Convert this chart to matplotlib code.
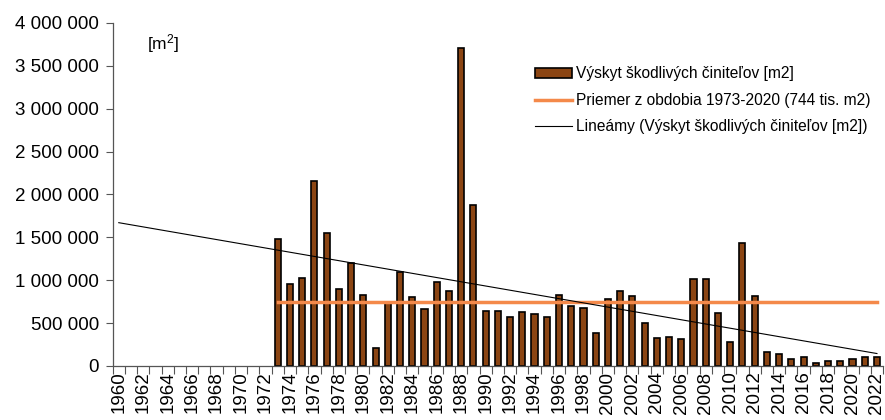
import numpy as np
import matplotlib
matplotlib.use('Agg')
import matplotlib.pyplot as plt
from matplotlib.ticker import FuncFormatter

plt.rcParams['font.family'] = ['Liberation Sans', 'DejaVu Sans']
plt.rcParams['mathtext.fontset'] = 'custom'
plt.rcParams['mathtext.rm'] = 'Liberation Sans'
plt.rcParams['mathtext.it'] = 'Liberation Sans'

years = list(range(1960, 2023))
# values in m2, 1973-2022 (earlier years have no data)
data_years = list(range(1973, 2023))
values = [1480000, 960000, 1030000, 2160000, 1550000, 900000, 1200000, 830000, 210000, 740000,
          1100000, 810000, 670000, 980000, 870000, 3710000, 1880000, 640000, 640000, 570000,
          630000, 610000, 570000, 830000, 700000, 680000, 390000, 780000, 880000, 820000,
          500000, 330000, 340000, 310000, 1010000, 1010000, 620000, 280000, 1430000, 820000,
          160000, 140000, 85000, 110000, 30000, 60000, 60000, 85000, 100000, 110000]
mean_value = 744000

bar_color = '#8B4513'
mean_color = '#F4894A'

idx = {y: i for i, y in enumerate(years)}
x_data = np.array([idx[y] for y in data_years])

# linear trendline as in Excel, fitted on the available years, extended over the whole axis
coef = np.polyfit(x_data, values, 1)
x_all = np.arange(len(years))
trend = np.polyval(coef, x_all)

fig = plt.figure(figsize=(8.85, 4.2), dpi=100)
ax = fig.add_axes([0.1273, 0.1286, 0.8705, 0.8167])

bars = ax.bar(x_data, values, width=0.5, color=bar_color, edgecolor='black', linewidth=1.2, zorder=2)
mean_line, = ax.plot([x_data[0], x_data[-1]], [mean_value, mean_value], color=mean_color,
                     linewidth=2.5, zorder=3)
trend_line, = ax.plot(x_all, trend, color='black', linewidth=0.8, zorder=4)

ax.set_xlim(-0.5, len(years) - 0.5)
ax.set_ylim(0, 4000000)
ax.set_yticks(np.arange(0, 4000001, 500000))
ax.yaxis.set_major_formatter(FuncFormatter(lambda v, p: '{:,.0f}'.format(v).replace(',', ' ')))

# ticks on category boundaries, labels on every other year
ax.set_xticks(np.arange(len(years) + 1) - 0.5)
ax.set_xticklabels([])
ax.set_xticks(x_all[::2], minor=True)
ax.set_xticklabels([str(y) for y in years[::2]], minor=True, rotation=90)
ax.tick_params(axis='x', which='minor', length=0, labelsize=13.5, pad=4)
ax.tick_params(axis='x', which='major', length=6, width=0.8, color='#555555', direction='out')
ax.tick_params(axis='y', length=5, width=0.8, color='#555555', labelsize=13.5, pad=5)

for s in ['top', 'right']:
    ax.spines[s].set_visible(False)
for s in ['left', 'bottom']:
    ax.spines[s].set_color('#555555')
    ax.spines[s].set_linewidth(0.9)

ax.text(0.045, 0.94, '[m$^2$]', transform=ax.transAxes, fontsize=12.5, va='center', ha='left')

ax.legend([bars, mean_line, trend_line],
          ['Výskyt škodlivých činiteľov [m2]',
           'Priemer z obdobia 1973-2020 (744 tis. m2)',
           'Lineámy (Výskyt škodlivých činiteľov [m2])'],
          loc='upper left', bbox_to_anchor=(0.53, 0.915), frameon=False, fontsize=11.2,
          handlelength=2.4, handleheight=0.6, labelspacing=0.75, handletextpad=0.25)

fig.savefig('out.png', dpi=100)
